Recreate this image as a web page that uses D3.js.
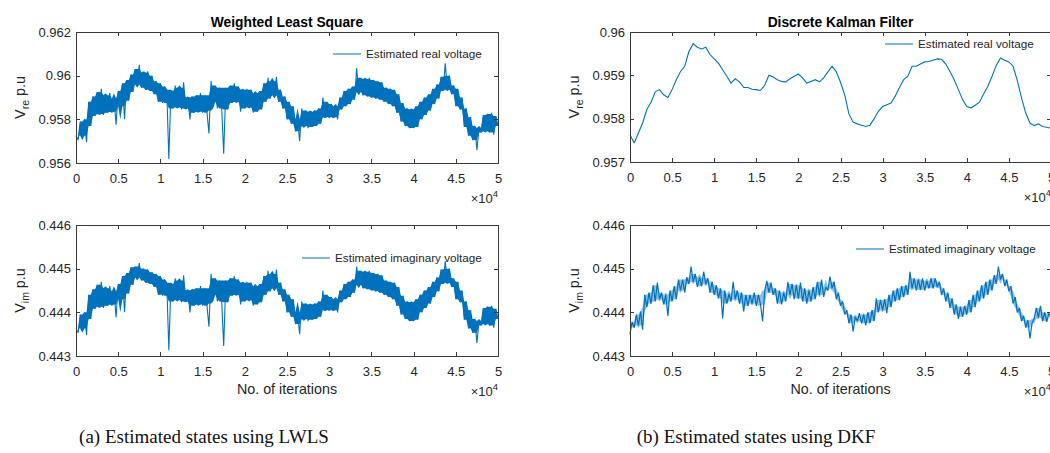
<!DOCTYPE html>
<html><head><meta charset="utf-8">
<script src="https://cdn.jsdelivr.net/npm/d3@7"></script>
<style>
html,body{margin:0;padding:0;background:#fff;}
svg{display:block;}
</style></head><body>
<svg id="fig" width="1050" height="453"></svg>
<script>
// Iteration spacing of the stored samples
const noisyStep = 250;
const smoothStep = 500;

// x axis (iterations, shown in units of 10^4)
const xTicks = [0, 5000, 10000, 15000, 20000, 25000, 30000, 35000, 40000, 45000, 50000];
const xTickLabels = ["0", "0.5", "1", "1.5", "2", "2.5", "3", "3.5", "4", "4.5", "5"];

// y axes
const reTicksWls = [0.956, 0.958, 0.960, 0.962];
const reTickLabelsWls = ["0.956", "0.958", "0.96", "0.962"];
const reTicksDkf = [0.957, 0.958, 0.959, 0.960];
const reTickLabelsDkf = ["0.957", "0.958", "0.959", "0.96"];
const imTicks = [0.443, 0.444, 0.445, 0.446];
const imTickLabels = ["0.443", "0.444", "0.445", "0.446"];

// Weighted least square: estimated real voltage (p.u), every 250 iterations
const wlsReal = [
  0.95725,0.95705,0.95790,0.95725,0.95800,0.95695,0.95880,0.95770,0.95905,0.95815,
  0.95925,0.95825,0.95940,0.95820,0.95910,0.95830,0.95920,0.95835,0.95895,0.95775,
  0.95930,0.95860,0.95965,0.95800,0.95980,0.95885,0.96005,0.95925,0.96030,0.95960,
  0.96050,0.95945,0.96015,0.95935,0.96020,0.95930,0.96000,0.95915,0.95975,0.95880,
  0.95965,0.95875,0.95950,0.95935,0.95618,0.95930,0.95850,0.95955,0.95855,0.95945,
  0.95845,0.95970,0.95850,0.95900,0.95800,0.95905,0.95830,0.95910,0.95835,0.95920,
  0.95830,0.95910,0.95840,0.95735,0.95975,0.95880,0.95955,0.95850,0.95945,0.95860,
  0.95642,0.95945,0.95845,0.95955,0.95875,0.95965,0.95880,0.95950,0.95835,0.95935,
  0.95850,0.95940,0.95855,0.95935,0.95830,0.95920,0.95835,0.95930,0.95845,0.95965,
  0.95880,0.95990,0.95895,0.95975,0.95910,0.95995,0.95880,0.95935,0.95850,0.95905,
  0.95800,0.95880,0.95780,0.95860,0.95745,0.95800,0.95700,0.95850,0.95770,0.95840,
  0.95760,0.95835,0.95765,0.95840,0.95770,0.95850,0.95780,0.95900,0.95810,0.95880,
  0.95805,0.95870,0.95810,0.95860,0.95800,0.95900,0.95845,0.95930,0.95860,0.95940,
  0.95870,0.95950,0.95890,0.96034,0.95925,0.95990,0.95910,0.95985,0.95905,0.95990,
  0.95900,0.95980,0.95895,0.95975,0.95890,0.95970,0.95880,0.95945,0.95870,0.95940,
  0.95860,0.95935,0.95830,0.95915,0.95790,0.95875,0.95770,0.95850,0.95760,0.95845,
  0.95760,0.95860,0.95765,0.95880,0.95800,0.95900,0.95820,0.95915,0.95840,0.95940,
  0.95870,0.95960,0.95895,0.95995,0.95930,0.96057,0.95935,0.96000,0.95915,0.95955,
  0.95860,0.95940,0.95845,0.95900,0.95765,0.95850,0.95725,0.95810,0.95705,0.95770,
  0.95660,0.95760,0.95740,0.95820,0.95745,0.95825,0.95740,0.95830,0.95730,0.95815,
  0.95770
];

// Weighted least square: estimated imaginary voltage (p.u), every 250 iterations
const wlsImag = [
  0.44363,0.44353,0.44395,0.44363,0.44400,0.44348,0.44440,0.44385,0.44453,0.44408,
  0.44463,0.44413,0.44470,0.44410,0.44455,0.44415,0.44460,0.44418,0.44448,0.44388,
  0.44465,0.44430,0.44483,0.44400,0.44490,0.44443,0.44503,0.44463,0.44505,0.44480,
  0.44513,0.44473,0.44500,0.44468,0.44498,0.44465,0.44492,0.44458,0.44488,0.44440,
  0.44483,0.44438,0.44475,0.44468,0.44313,0.44465,0.44425,0.44478,0.44428,0.44473,
  0.44423,0.44485,0.44425,0.44450,0.44400,0.44453,0.44415,0.44455,0.44418,0.44460,
  0.44415,0.44455,0.44420,0.44367,0.44488,0.44440,0.44478,0.44425,0.44473,0.44430,
  0.44323,0.44473,0.44423,0.44478,0.44438,0.44483,0.44440,0.44475,0.44418,0.44468,
  0.44425,0.44470,0.44428,0.44468,0.44415,0.44460,0.44418,0.44465,0.44423,0.44483,
  0.44440,0.44495,0.44448,0.44488,0.44455,0.44498,0.44440,0.44468,0.44425,0.44453,
  0.44400,0.44440,0.44390,0.44430,0.44373,0.44400,0.44350,0.44425,0.44385,0.44420,
  0.44380,0.44418,0.44383,0.44420,0.44385,0.44425,0.44390,0.44450,0.44405,0.44440,
  0.44403,0.44435,0.44405,0.44430,0.44400,0.44450,0.44423,0.44465,0.44430,0.44470,
  0.44435,0.44475,0.44445,0.44505,0.44463,0.44495,0.44455,0.44493,0.44453,0.44495,
  0.44450,0.44490,0.44448,0.44488,0.44445,0.44485,0.44440,0.44473,0.44435,0.44470,
  0.44430,0.44468,0.44415,0.44458,0.44395,0.44438,0.44385,0.44425,0.44380,0.44423,
  0.44380,0.44430,0.44383,0.44440,0.44400,0.44450,0.44410,0.44458,0.44420,0.44470,
  0.44435,0.44480,0.44448,0.44498,0.44465,0.44517,0.44468,0.44500,0.44458,0.44478,
  0.44430,0.44470,0.44423,0.44450,0.44383,0.44425,0.44363,0.44405,0.44353,0.44385,
  0.44330,0.44380,0.44370,0.44410,0.44373,0.44413,0.44370,0.44415,0.44365,0.44408,
  0.44385
];

// Discrete Kalman filter: estimated real voltage (p.u), every 500 iterations
const dkfReal = [
  0.95763,0.95744,0.95767,0.95790,0.95821,0.95838,0.95862,0.95867,0.95855,0.95849,
  0.95867,0.95890,0.95909,0.95921,0.95955,0.95973,0.95965,0.95961,0.95965,0.95948,
  0.95938,0.95928,0.95913,0.95898,0.95882,0.95892,0.95885,0.95872,0.95872,0.95868,
  0.95867,0.95865,0.95877,0.95900,0.95896,0.95890,0.95886,0.95885,0.95892,0.95898,
  0.95903,0.95894,0.95882,0.95886,0.95890,0.95885,0.95894,0.95908,0.95921,0.95908,
  0.95884,0.95855,0.95811,0.95792,0.95788,0.95785,0.95782,0.95785,0.95800,0.95817,
  0.95828,0.95832,0.95836,0.95852,0.95872,0.95890,0.95898,0.95921,0.95921,0.95926,
  0.95931,0.95932,0.95935,0.95938,0.95937,0.95926,0.95909,0.95890,0.95867,0.95844,
  0.95828,0.95825,0.95831,0.95838,0.95857,0.95875,0.95898,0.95923,0.95940,0.95935,
  0.95931,0.95921,0.95888,0.95848,0.95813,0.95790,0.95784,0.95788,0.95782,0.95780,
  0.95778
];

// Discrete Kalman filter: estimated imaginary voltage (p.u), every 250 iterations
const dkfImag = [
  0.44350,0.44378,0.44365,0.44395,0.44370,0.44402,0.44360,0.44440,0.44412,0.44445,
  0.44420,0.44462,0.44425,0.44468,0.44430,0.44445,0.44418,0.44440,0.44392,0.44450,
  0.44425,0.44460,0.44430,0.44475,0.44450,0.44475,0.44445,0.44480,0.44465,0.44505,
  0.44470,0.44488,0.44458,0.44480,0.44460,0.44493,0.44465,0.44478,0.44445,0.44470,
  0.44440,0.44462,0.44432,0.44455,0.44386,0.44450,0.44420,0.44442,0.44425,0.44470,
  0.44430,0.44450,0.44420,0.44445,0.44402,0.44440,0.44415,0.44440,0.44420,0.44445,
  0.44415,0.44440,0.44418,0.44379,0.44450,0.44472,0.44445,0.44468,0.44440,0.44455,
  0.44420,0.44450,0.44418,0.44445,0.44425,0.44470,0.44440,0.44465,0.44430,0.44462,
  0.44432,0.44468,0.44425,0.44455,0.44420,0.44450,0.44425,0.44458,0.44430,0.44470,
  0.44440,0.44475,0.44435,0.44458,0.44450,0.44482,0.44455,0.44470,0.44430,0.44445,
  0.44415,0.44425,0.44395,0.44405,0.44375,0.44395,0.44356,0.44390,0.44380,0.44398,
  0.44375,0.44395,0.44370,0.44400,0.44375,0.44405,0.44380,0.44432,0.44400,0.44428,
  0.44405,0.44430,0.44398,0.44440,0.44412,0.44450,0.44425,0.44455,0.44428,0.44460,
  0.44435,0.44462,0.44440,0.44493,0.44455,0.44478,0.44450,0.44475,0.44452,0.44478,
  0.44450,0.44472,0.44455,0.44478,0.44455,0.44478,0.44458,0.44470,0.44440,0.44455,
  0.44425,0.44445,0.44410,0.44432,0.44395,0.44418,0.44385,0.44412,0.44390,0.44415,
  0.44395,0.44428,0.44400,0.44440,0.44412,0.44450,0.44425,0.44462,0.44432,0.44470,
  0.44440,0.44475,0.44450,0.44485,0.44465,0.44505,0.44475,0.44488,0.44460,0.44475,
  0.44448,0.44460,0.44420,0.44435,0.44400,0.44410,0.44380,0.44392,0.44365,0.44382,
  0.44340,0.44375,0.44385,0.44410,0.44388,0.44415,0.44380,0.44400,0.44378,0.44398,
  0.44390
];

const titles = ["Weighted Least Square", "Discrete Kalman Filter"];
const legendReal = "Estimated real voltage";
const legendImag = "Estimated imaginary voltage";
const xLabelText = "No. of iterations";
const captions = ["(a) Estimated states using LWLS", "(b) Estimated states using DKF"];

const SANS = "'Liberation Sans', Arial, Helvetica, sans-serif";
const SERIF = "'Liberation Serif', 'Times New Roman', serif";
const AXIS_COLOR = "#3a3a3a";
const TEXT_COLOR = "#262626";
const LINE_COLOR = "#0072BD";

const svg = d3.select("#fig");
svg.append("rect").attr("width", 1050).attr("height", 453).attr("fill", "#fff");

const panels = [
  { left: 76, right: 498, top: 32, bottom: 163, yDomain: [0.956, 0.962],
    yTicks: reTicksWls, yLabels: reTickLabelsWls, values: wlsReal, step: noisyStep, lw: 1.1, band: 1,
    title: titles[0], legend: legendReal, legX: 333, legY: 54, sub: "re", xlabel: false },
  { left: 76, right: 498, top: 225, bottom: 356, yDomain: [0.443, 0.446],
    yTicks: imTicks, yLabels: imTickLabels, values: wlsImag, step: noisyStep, lw: 1.1, band: 1,
    title: null, legend: legendImag, legX: 302, legY: 258, sub: "im", xlabel: true },
  { left: 630, right: 1051, top: 32, bottom: 162, yDomain: [0.957, 0.960],
    yTicks: reTicksDkf, yLabels: reTickLabelsDkf, values: dkfReal, step: smoothStep, lw: 1.1, band: 0,
    title: titles[1], legend: legendReal, legX: 885, legY: 44, sub: "re", xlabel: false },
  { left: 630, right: 1051, top: 225, bottom: 356, yDomain: [0.443, 0.446],
    yTicks: imTicks, yLabels: imTickLabels, values: dkfImag, step: noisyStep, lw: 1.2, band: 0.45,
    title: null, legend: legendImag, legX: 856, legY: 249, sub: "im", xlabel: true }
];

function styleAxis(sel) {
  sel.attr("font-family", SANS).attr("font-size", 13);
  sel.select(".domain").remove();
  sel.selectAll(".tick line").attr("stroke", AXIS_COLOR).attr("shape-rendering", "crispEdges");
  sel.selectAll(".tick text").attr("fill", TEXT_COLOR);
}

// Dense-trace core: inner spread of the samples around each point (ignores single outliers)
function innerSpread(values, i) {
  const w = values.slice(Math.max(0, i - 2), Math.min(values.length, i + 3)).sort(d3.ascending);
  return [w[1], w[w.length - 2]];
}

function drawPanel(p) {
  const x = d3.scaleLinear().domain([0, 50000]).range([p.left, p.right]);
  const y = d3.scaleLinear().domain(p.yDomain).range([p.bottom, p.top]);
  const g = svg.append("g");

  if (p.band > 0) {
    const spread = p.values.map((d, i) => innerSpread(p.values, i));
    const area = d3.area().x((d, i) => x(i * p.step)).y0(d => y(d[0])).y1(d => y(d[1]));
    g.append("path").datum(spread).attr("fill", LINE_COLOR)
      .attr("fill-opacity", p.band).attr("d", area);
  }

  // series line
  const line = d3.line().x((d, i) => x(i * p.step)).y(d => y(d));
  g.append("path").datum(p.values)
    .attr("fill", "none").attr("stroke", LINE_COLOR)
    .attr("stroke-width", p.lw).attr("stroke-linejoin", "miter").attr("stroke-miterlimit", 2)
    .attr("d", line);

  // axes with inward ticks on all four sides
  g.append("g").attr("transform", `translate(0,${p.bottom})`)
    .call(d3.axisBottom(x).tickValues(xTicks).tickFormat((d, i) => xTickLabels[i])
      .tickSizeInner(-4).tickSizeOuter(0).tickPadding(11))
    .call(styleAxis);
  g.append("g").attr("transform", `translate(0,${p.top})`)
    .call(d3.axisTop(x).tickValues(xTicks).tickFormat("").tickSizeInner(-4).tickSizeOuter(0))
    .call(styleAxis);
  g.append("g").attr("transform", `translate(${p.left},0)`)
    .call(d3.axisLeft(y).tickValues(p.yTicks).tickFormat((d, i) => p.yLabels[i])
      .tickSizeInner(-4).tickSizeOuter(0).tickPadding(5))
    .call(styleAxis);
  g.append("g").attr("transform", `translate(${p.right},0)`)
    .call(d3.axisRight(y).tickValues(p.yTicks).tickFormat("").tickSizeInner(-4).tickSizeOuter(0))
    .call(styleAxis);

  // frame
  g.append("rect").attr("x", p.left).attr("y", p.top)
    .attr("width", p.right - p.left).attr("height", p.bottom - p.top)
    .attr("fill", "none").attr("stroke", AXIS_COLOR).attr("stroke-width", 1)
    .attr("shape-rendering", "crispEdges");

  // title
  if (p.title) {
    g.append("text").attr("x", (p.left + p.right) / 2).attr("y", 26.5)
      .attr("text-anchor", "middle").attr("font-family", SANS).attr("font-size", 13.8)
      .attr("font-weight", "bold").attr("fill", "#000").text(p.title);
  }

  // legend (no box)
  g.append("line").attr("x1", p.legX).attr("x2", p.legX + 28)
    .attr("y1", p.legY).attr("y2", p.legY)
    .attr("stroke", LINE_COLOR).attr("stroke-width", 1);
  g.append("text").attr("x", p.legX + 33).attr("y", p.legY + 4)
    .attr("font-family", SANS).attr("font-size", 11.7).attr("fill", TEXT_COLOR)
    .text(p.legend);

  // y label: V_sub p.u
  const yl = g.append("text")
    .attr("transform", `translate(${p.left - 51},${(p.top + p.bottom) / 2}) rotate(-90)`)
    .attr("text-anchor", "middle").attr("font-family", SANS).attr("font-size", 14.3)
    .attr("fill", TEXT_COLOR);
  yl.append("tspan").text("V");
  yl.append("tspan").attr("font-size", 10.5).attr("dy", 4).text(p.sub);
  yl.append("tspan").attr("dy", -4).text(" p.u");

  // exponent marker
  const ex = g.append("text").attr("x", p.right).attr("y", p.bottom + 40)
    .attr("text-anchor", "end").attr("font-family", SANS).attr("font-size", 13)
    .attr("fill", TEXT_COLOR);
  ex.append("tspan").text("\u00d710");
  ex.append("tspan").attr("font-size", 9.5).attr("dy", -6).text("4");

  if (p.xlabel) {
    g.append("text").attr("x", (p.left + p.right) / 2).attr("y", p.bottom + 38)
      .attr("text-anchor", "middle").attr("font-family", SANS).attr("font-size", 14.3)
      .attr("fill", TEXT_COLOR).text(xLabelText);
  }
}

panels.forEach(drawPanel);

// sub-figure captions
svg.append("text").attr("x", 204).attr("y", 443).attr("text-anchor", "middle")
  .attr("font-family", SERIF).attr("font-size", 19).attr("fill", "#111").text(captions[0]);
svg.append("text").attr("x", 756).attr("y", 443).attr("text-anchor", "middle")
  .attr("font-family", SERIF).attr("font-size", 19).attr("fill", "#111").text(captions[1]);
</script>
</body></html>
